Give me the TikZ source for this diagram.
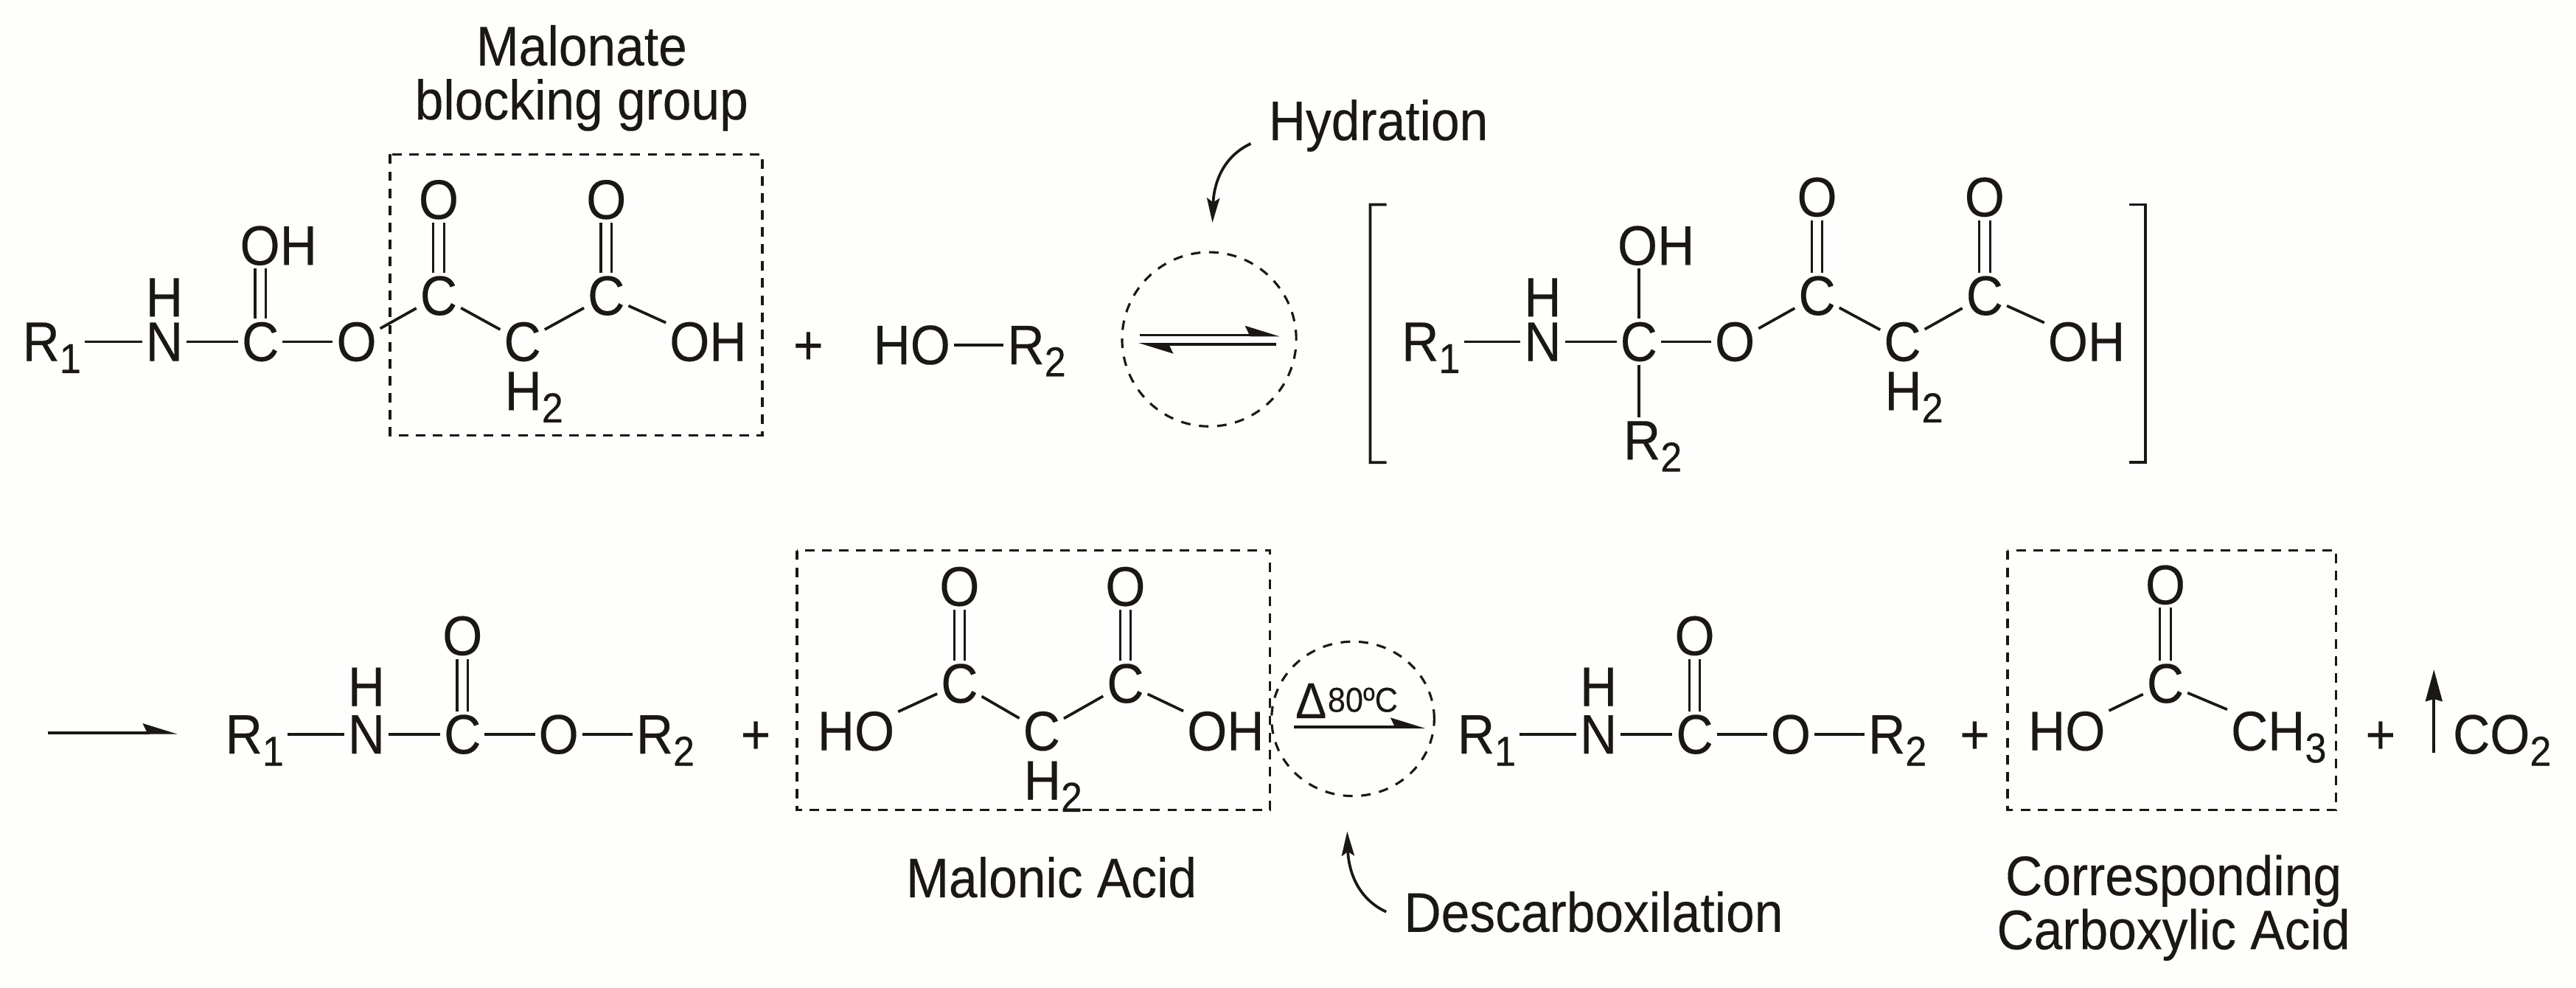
\documentclass[tikz,border=0pt]{standalone}
\usepackage{fontspec}
\setmainfont[FakeStretch=0.92,FakeBold=0.2]{Liberation Sans}
\usetikzlibrary{arrows.meta,shapes.geometric}
\definecolor{inkblack}{HTML}{1A1714}
\definecolor{paper}{HTML}{FEFEFC}
\newcommand{\idx}[1]{\raisebox{-4.2pt}[0pt][0pt]{\fontsize{14.5}{14.5}\selectfont #1}}
\tikzstyle{atom}=[inner sep=1.1pt,text height=13.3pt,text depth=0pt,font=\fontsize{19.3}{18.7}\selectfont]
\tikzstyle{caption}=[inner sep=6pt,align=center,font=\fontsize{19.3}{18.7}\selectfont]
\tikzstyle{bond}=[line width=0.95pt]
\tikzstyle{dbond}=[line width=0.8pt,double=paper,double distance=2.9pt]
\tikzstyle{dashbox}=[line width=0.9pt,dash pattern=on 3.3pt off 2.6pt]
\tikzstyle{ring}=[ellipse,draw,line width=0.8pt,dash pattern=on 3.3pt off 3pt,inner sep=0pt]
\tikzstyle{harp}=[line width=0.9pt,-{Stealth[harpoon,length=10.5pt,width=6.4pt,inset=1.5pt]}]
\tikzstyle{arrow}=[line width=0.95pt,-{Stealth[length=8.5pt,width=4.4pt,inset=1.5pt]}]
\tikzstyle{uparrow}=[line width=0.95pt,-{Stealth[length=11pt,width=5.8pt,inset=0.8pt]}]

\begin{document}
\begin{tikzpicture}[node distance=1.17cm,color=inkblack]
    \fill [paper] (0,0) rectangle (31.36,-12.018);
    % first line
    \node (r1a)[atom] at (0.63,-4.16){R\idx{1}};
    \node (n1a)[atom,right of=r1a,xshift=0.2cm]{N};
    \node (h1a)[atom,above of=n1a,node distance=0.54cm]{H};
    \node (c1a)[atom,right of=n1a]{C};
    \node (oh1a)[atom,above of=c1a,xshift=0.22cm]{OH};
    \node (o1a)[atom,right of=c1a]{O};
    \node (c2a)[atom,right of=o1a,xshift=-0.17cm,yshift=0.56cm]{C};
    \node (o2a)[atom,above of=c2a]{O};
    \node (c3a)[atom,right of=c2a,xshift=-0.15cm,yshift=-0.56cm]{C};
    \node (h2a)[atom,below of=c3a,node distance=0.6cm,xshift=0.14cm]{H\idx{2}};
    \node (c4a)[atom,right of=c3a,xshift=-0.15cm,yshift=0.56cm]{C};
    \node (o3a)[atom,above of=c4a]{O};
    \node (oh2a)[atom,right of=c4a,xshift=0.07cm,yshift=-0.56cm]{OH};
    \node (plus1)[atom] at (9.84,-4.2){+};
    \node (hoa)[atom] at (11.1,-4.2){HO};
    \node (r2a)[atom,right of=hoa,xshift=0.35cm]{R\idx{2}};
    \draw [bond] (r1a) -- (n1a);
    \draw [bond] (n1a) -- (c1a);
    \draw [bond] (c1a) -- (o1a);
    \draw [bond] (o1a) -- (c2a);
    \draw [bond] (c2a) -- (c3a);
    \draw [bond] (c3a) -- (c4a);
    \draw [bond] (c4a) -- (oh2a);
    \draw [bond] (hoa) -- (r2a);
    \draw [dbond] (c1a) -- (c1a|-oh1a.south);
    \draw [dbond] (c2a) -- (o2a);
    \draw [dbond] (c4a) -- (o3a);
    \draw [dashbox] (4.75,-1.88) rectangle (9.28,-5.3);
    \node (block)[caption] at (7.08,-0.95){Malonate\\blocking group};
    % equilibrium
    \node (eqring)[ring,minimum width=2.12cm,minimum height=2.12cm] at (14.72,-4.13){};
    \coordinate (eqa) at (13.88,-4.08);
    \coordinate (eqb) at (15.58,-4.08);
    \coordinate (eqc) at (15.54,-4.19);
    \coordinate (eqd) at (13.86,-4.19);
    \draw [harp] (eqa) -- (eqb);
    \draw [harp] (eqc) -- (eqd);
    \node (hyd)[caption] at (16.78,-1.53){Hydration};
    \coordinate (hydtip) at (14.76,-2.71);
    \draw [arrow] (hyd.188) to[out=205,in=88] (hydtip);
    % intermediate
    \node (r1i)[atom] at (17.42,-4.16){R\idx{1}};
    \node (n1i)[atom,right of=r1i,xshift=0.19cm]{N};
    \node (h1i)[atom,above of=n1i,node distance=0.54cm]{H};
    \node (c1i)[atom,right of=n1i]{C};
    \node (oh1i)[atom,above of=c1i,xshift=0.21cm]{OH};
    \node (r2i)[atom,below of=c1i,node distance=1.2cm,xshift=0.17cm]{R\idx{2}};
    \node (o1i)[atom,right of=c1i]{O};
    \node (c2i)[atom,right of=o1i,xshift=-0.17cm,yshift=0.56cm]{C};
    \node (o2i)[atom,above of=c2i,yshift=0.03cm]{O};
    \node (c3i)[atom,right of=c2i,xshift=-0.13cm,yshift=-0.56cm]{C};
    \node (h2i)[atom,below of=c3i,node distance=0.6cm,xshift=0.14cm]{H\idx{2}};
    \node (c4i)[atom,right of=c3i,xshift=-0.17cm,yshift=0.56cm]{C};
    \node (o3i)[atom,above of=c4i,yshift=0.03cm]{O};
    \node (oh2i)[atom,right of=c4i,xshift=0.07cm,yshift=-0.56cm]{OH};
    \draw [bond] (r1i) -- (n1i);
    \draw [bond] (n1i) -- (c1i);
    \draw [bond] (c1i) -- (o1i);
    \draw [bond] (o1i) -- (c2i);
    \draw [bond] (c2i) -- (c3i);
    \draw [bond] (c3i) -- (c4i);
    \draw [bond] (c4i) -- (oh2i);
    \draw [bond] (c1i) -- (c1i|-oh1i.south);
    \draw [bond] (c1i) -- (c1i|-r2i.north);
    \draw [dbond] (c2i) -- (o2i);
    \draw [dbond] (c4i) -- (o3i);
    \draw [bond] (16.88,-2.49) -- ++(-0.2,0) -- (16.68,-5.63) -- ++(0.2,0);
    \draw [bond] (25.92,-2.49) -- ++(0.2,0) -- (26.12,-5.63) -- ++(-0.2,0);
    % second line
    \coordinate (goa) at (0.58,-8.92);
    \coordinate (gob) at (2.16,-8.92);
    \draw [harp] (goa) -- (gob);
    \node (r1b)[atom] at (3.1,-8.94){R\idx{1}};
    \node (n1b)[atom,right of=r1b,xshift=0.19cm]{N};
    \node (h1b)[atom,above of=n1b,node distance=0.58cm]{H};
    \node (c1b)[atom,right of=n1b]{C};
    \node (o1b)[atom,above of=c1b,yshift=0.03cm]{O};
    \node (o2b)[atom,right of=c1b]{O};
    \node (r2b)[atom,right of=o2b,xshift=0.13cm]{R\idx{2}};
    \node (plus2)[atom] at (9.2,-8.94){+};
    \draw [bond] (r1b) -- (n1b);
    \draw [bond] (n1b) -- (c1b);
    \draw [bond] (c1b) -- (o2b);
    \draw [bond] (o2b) -- (r2b);
    \draw [dbond] (c1b) -- (o1b);
    % malonic acid
    \node (hoc)[atom] at (10.42,-8.9){HO};
    \node (c1c)[atom,right of=hoc,xshift=0.09cm,yshift=0.58cm]{C};
    \node (o1c)[atom,above of=c1c,yshift=0.01cm]{O};
    \node (c2c)[atom,right of=c1c,xshift=-0.17cm,yshift=-0.58cm]{C};
    \node (h2c)[atom,below of=c2c,node distance=0.6cm,xshift=0.14cm]{H\idx{2}};
    \node (c3c)[atom,right of=c2c,xshift=-0.15cm,yshift=0.58cm]{C};
    \node (o2c)[atom,above of=c3c,yshift=0.01cm]{O};
    \node (ohc)[atom,right of=c3c,xshift=0.05cm,yshift=-0.58cm]{OH};
    \draw [bond] (hoc) -- (c1c);
    \draw [bond] (c1c) -- (c2c);
    \draw [bond] (c2c) -- (c3c);
    \draw [bond] (c3c) -- (ohc);
    \draw [dbond] (c1c) -- (o1c);
    \draw [dbond] (c3c) -- (o2c);
    \draw [dashbox] (9.7,-6.7) rectangle (15.46,-9.86);
    \node (malonic)[caption] at (12.8,-10.68){Malonic Acid};
    % heating step
    \node (dring)[ring,minimum width=1.98cm,minimum height=1.88cm] at (16.47,-8.75){};
    \coordinate (hea) at (15.75,-8.85);
    \coordinate (heb) at (17.35,-8.85);
    \draw [harp] (hea) -- (heb);
    \node (delta)[inner sep=0pt,font=\fontsize{17.5}{17.5}\selectfont] at (15.96,-8.53){Δ};
    \node (temp)[inner sep=0pt,font=\fontsize{12}{12}\selectfont] at (16.59,-8.52){80ºC};
    \node (desc)[caption] at (19.4,-11.1){Descarboxilation};
    \coordinate (desctip) at (16.4,-10.12);
    \draw [arrow] (desc.west) to[out=155,in=-88] (desctip);
    % product
    \node (r1d)[atom] at (18.1,-8.94){R\idx{1}};
    \node (n1d)[atom,right of=r1d,xshift=0.19cm]{N};
    \node (h1d)[atom,above of=n1d,node distance=0.58cm]{H};
    \node (c1d)[atom,right of=n1d]{C};
    \node (o1d)[atom,above of=c1d,yshift=0.03cm]{O};
    \node (o2d)[atom,right of=c1d]{O};
    \node (r2d)[atom,right of=o2d,xshift=0.13cm]{R\idx{2}};
    \node (plus3)[atom] at (24.04,-8.94){+};
    \draw [bond] (r1d) -- (n1d);
    \draw [bond] (n1d) -- (c1d);
    \draw [bond] (c1d) -- (o2d);
    \draw [bond] (o2d) -- (r2d);
    \draw [dbond] (c1d) -- (o1d);
    % carboxylic acid
    \node (hoe)[atom] at (25.16,-8.9){HO};
    \node (c1e)[atom,right of=hoe,xshift=0.03cm,yshift=0.58cm]{C};
    \node (o1e)[atom,above of=c1e,yshift=0.03cm]{O};
    \node (ch3e)[atom,right of=c1e,xshift=0.21cm,yshift=-0.58cm]{CH\idx{3}};
    \draw [bond] (hoe) -- (c1e);
    \draw [bond] (c1e) -- (ch3e);
    \draw [dbond] (c1e) -- (o1e);
    \draw [dashbox] (24.44,-6.7) rectangle (28.44,-9.86);
    \node (carb)[caption] at (26.46,-11.05){Corresponding\\Carboxylic Acid};
    \node (plus4)[atom] at (28.98,-8.94){+};
    \node (co2)[atom] at (30.46,-8.94){CO\idx{2}};
    \coordinate (upa) at (29.63,-9.16);
    \coordinate (upb) at (29.63,-8.15);
    \draw [uparrow] (upa) -- (upb);
\end{tikzpicture}
\end{document}
